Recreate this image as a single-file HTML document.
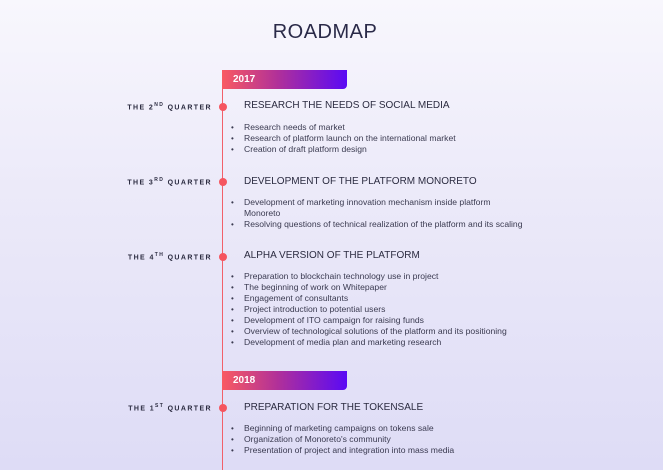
<!DOCTYPE html>
<html><head><style>
body{margin:0;width:663px;height:470px;overflow:hidden;background:linear-gradient(180deg,#f8f7fd 0%,#eceaf9 40%,#dedcf6 100%);font-family:"Liberation Sans",sans-serif;position:relative;color:#2b2b40}
.a{position:absolute}
.t{left:0;width:650px;text-align:center;top:21px;font-size:20px;letter-spacing:0.5px;color:#2a2a48}
.line{left:222px;top:70px;width:1px;height:400px;background:#f2606a}
.ban{left:222px;width:125px;height:19px;background:linear-gradient(90deg,#f95a62,#b0309a 45%,#5a0af5);border-radius:0 0 4px 0;color:#fff;font-weight:bold;font-size:10px;line-height:19px;padding-left:11px;box-sizing:border-box}
.dot{left:219px;width:8px;height:8px;border-radius:50%;background:#f5555f}
.q{right:451px;font-size:7px;font-weight:bold;letter-spacing:1.4px;white-space:nowrap}
.q sup{font-size:5px}
.h{left:244px;font-size:10px;color:#2b2b40;white-space:nowrap}
.b{left:231px;font-size:8.6px;color:#3a3a50;white-space:nowrap}
.b div{height:11px;line-height:11px}
.b div.l:before{content:"•";display:inline-block;width:13px;font-size:8px}
.b div.c{padding-left:13px}
</style></head><body>
<div class="a t">ROADMAP</div>
<div class="a line"></div>
<div class="a ban" style="top:70px">2017</div>
<div class="a ban" style="top:371px">2018</div>

<div class="a dot" style="top:103px"></div>
<div class="a q" style="top:102px">THE 2<sup>ND</sup> QUARTER</div>
<div class="a h" style="top:100px">RESEARCH THE NEEDS OF SOCIAL MEDIA</div>
<div class="a b" style="top:122px"><div class="l">Research needs of market</div><div class="l">Research of platform launch on the international market</div><div class="l">Creation of draft platform design</div></div>

<div class="a dot" style="top:178px"></div>
<div class="a q" style="top:177px">THE 3<sup>RD</sup> QUARTER</div>
<div class="a h" style="top:176px">DEVELOPMENT OF THE PLATFORM MONORETO</div>
<div class="a b" style="top:197px"><div class="l">Development of marketing innovation mechanism inside platform</div><div class="c">Monoreto</div><div class="l">Resolving questions of technical realization of the platform and its scaling</div></div>

<div class="a dot" style="top:253px"></div>
<div class="a q" style="top:252px">THE 4<sup>TH</sup> QUARTER</div>
<div class="a h" style="top:250px">ALPHA VERSION OF THE PLATFORM</div>
<div class="a b" style="top:271px"><div class="l">Preparation to blockchain technology use in project</div><div class="l">The beginning of work on Whitepaper</div><div class="l">Engagement of consultants</div><div class="l">Project introduction to potential users</div><div class="l">Development of ITO campaign for raising funds</div><div class="l">Overview of technological solutions of the platform and its positioning</div><div class="l">Development of media plan and marketing research</div></div>

<div class="a dot" style="top:404px"></div>
<div class="a q" style="top:403px">THE 1<sup>ST</sup> QUARTER</div>
<div class="a h" style="top:402px">PREPARATION FOR THE TOKENSALE</div>
<div class="a b" style="top:423px"><div class="l">Beginning of marketing campaigns on tokens sale</div><div class="l">Organization of Monoreto's community</div><div class="l">Presentation of project and integration into mass media</div></div>
</body></html>
